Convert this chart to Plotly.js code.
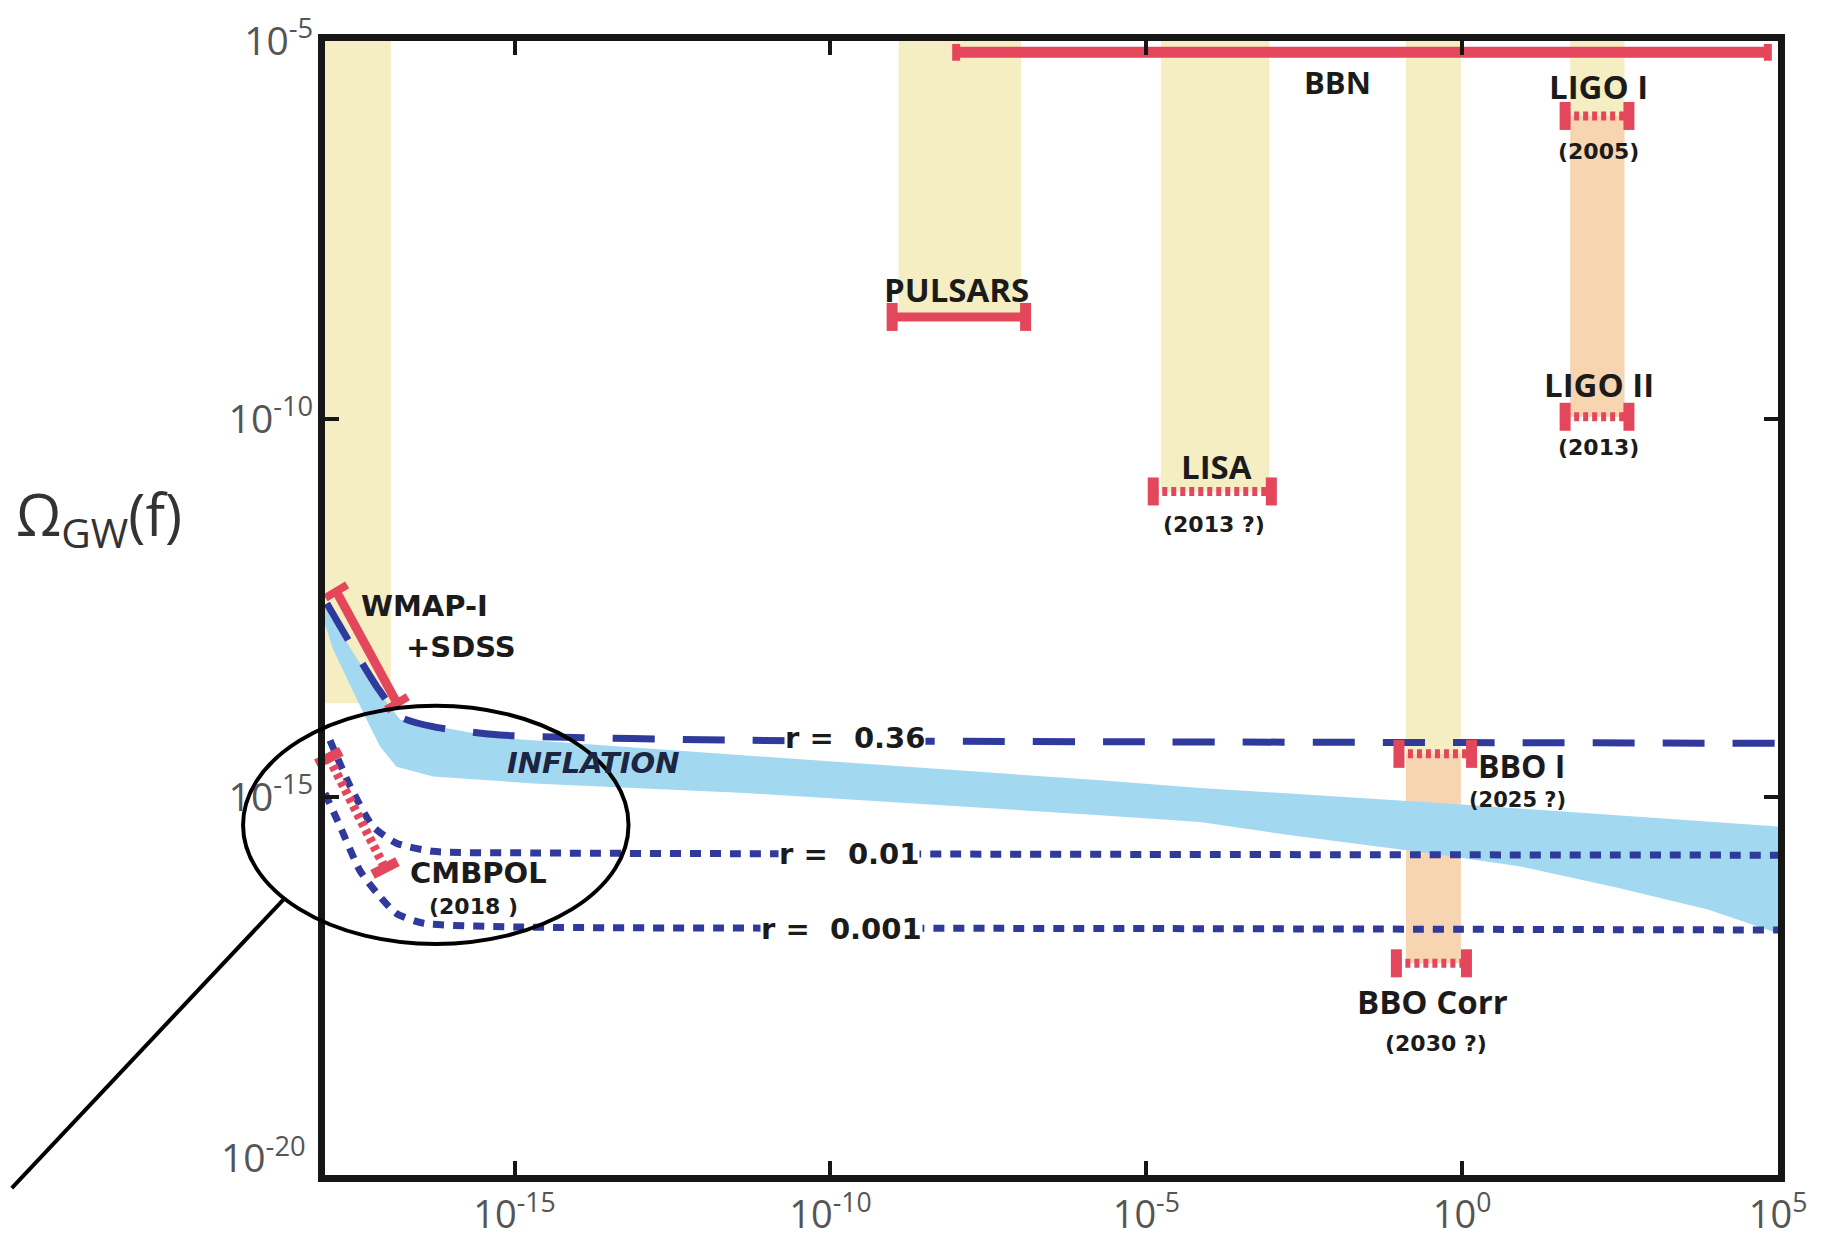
<!DOCTYPE html>
<html><head><meta charset="utf-8">
<script src="https://cdn.plot.ly/plotly-3.0.1.min.js"></script>
<style>html,body{margin:0;padding:0;background:#fff}</style>
</head><body>
<div id="chart" style="width:1832px;height:1242px"></div>
<script>
// ---------- axes ----------
const xTickVals = [1e-15, 1e-10, 1e-5, 1, 1e5];
const xTickText = ['10<sup>-15</sup>', '10<sup>-10</sup>', '10<sup>-5</sup>', '10<sup>0</sup>', '10<sup>5</sup>'];
const yTickVals = [1e-20, 1e-15, 1e-10, 1e-5];
const yTickText = ['', '10<sup>-15</sup>', '10<sup>-10</sup>', '10<sup>-5</sup>'];
const yBottomTickText = '10<sup>-20</sup>';   // drawn slightly raised, as in the original

// ---------- detector frequency windows (shaded bands) ----------
const bandNames        = ['CMB', 'PULSARS', 'LISA', 'BBO', 'LIGO'];
const bandFLow         = [1e-18, 1.2e-9, 1.7e-5, 0.129, 51.3];
const bandFHigh        = [1.1e-17, 1.05e-7, 8.91e-4, 0.955, 372];
const bandTop          = [1e-5, 1e-5, 1e-5, 1e-5, 1e-5];
const bandYellowBottom = [1.74e-14, 2.24e-9, 1.10e-11, 3.72e-15, 1.02e-6];
const bandOrangeBottom = [null, null, null, 6.31e-18, 1.07e-10];

// ---------- inflation band ----------
const inflUpperF     = [1e-18, 2.51e-18, 6.61e-18, 1.55e-17, 5.89e-16, 5.37e-12, 1.86e-6, 7.08e-5, 1, 1e5];
const inflUpperOmega = [3.31e-13, 9.33e-14, 2.63e-14, 1.05e-14, 6.03e-15, 3.55e-15, 1.66e-15, 1.32e-15, 7.94e-16, 4.07e-16];
const inflLowerF     = [1e-18, 1.35e-18, 4.57e-18, 7.41e-18, 1.35e-17, 5.13e-17, 2.0e-15, 5.37e-12, 1.86e-6, 7.08e-5, 1.7e-3, 0.282, 8.51, 257, 7.76e3, 1e5];
const inflLowerOmega = [1.9e-13, 8.9e-14, 1.05e-14, 4.68e-15, 2.51e-15, 1.86e-15, 1.51e-15, 1.12e-15, 5.75e-16, 4.68e-16, 3.16e-16, 1.82e-16, 1.20e-16, 6.46e-17, 3.24e-17, 1.58e-17];

// ---------- tensor-to-scalar curves ----------
const r036F     = [1.07e-18, 2.51e-18, 6.61e-18, 1.55e-17, 5.13e-17, 5.89e-16, 5.37e-12, 1e-5, 1, 1e5];
const r036Omega = [3.63e-13, 1.07e-13, 2.88e-14, 1.15e-14, 8.51e-15, 6.61e-15, 5.62e-15, 5.37e-15, 5.25e-15, 5.13e-15];
const r001F     = [1.2e-18, 2.51e-18, 5.75e-18, 1.35e-17, 5.13e-17, 1.95e-15, 1e-5, 1e5];
const r001Omega = [5.62e-15, 1.38e-15, 4.07e-16, 2.45e-16, 1.91e-16, 1.82e-16, 1.74e-16, 1.70e-16];
const r0001F     = [1e-18, 1.74e-18, 3.55e-18, 6.61e-18, 1.35e-17, 3.63e-17, 1e-15, 1e-5, 1e5];
const r0001Omega = [1.12e-15, 4.07e-16, 1.07e-16, 5.37e-17, 2.88e-17, 2.14e-17, 1.91e-17, 1.82e-17, 1.74e-17];

// ---------- experimental bounds / sensitivities ----------
const bbnF = [9.8e-9, 6.9e4],        bbnOmega = [7.08e-6, 7.08e-6];
const pulsarF = [9.5e-10, 1.23e-7],  pulsarOmega = [2.24e-9, 2.24e-9];
const wmapF = [1.51e-18, 1.38e-17],  wmapOmega = [5.25e-13, 1.74e-14];
const lisaF = [1.29e-5, 9.55e-4],    lisaOmega = [1.10e-11, 1.10e-11];
const ligo1F = [42.7, 437],          ligo1Omega = [1.02e-6, 1.02e-6];
const ligo2F = [42.7, 437],          ligo2Omega = [1.07e-10, 1.07e-10];
const bbo1F = [0.1, 1.41],           bbo1Omega = [3.72e-15, 3.72e-15];
const bboCorrF = [0.091, 1.17],      bboCorrOmega = [6.31e-18, 6.31e-18];
const cmbpolF = [1.15e-18, 8.91e-18], cmbpolOmega = [3.31e-15, 1.15e-16];

// ---------- styles ----------
const YELLOW = '#f6eec3', ORANGE = '#f6d5b0', LIGHTBLUE = '#a3d8f1';
const RED = '#e4475b', NAVY = '#2f3a9c';

const traces = [];
for (let i = 0; i < bandNames.length; i++) {
  traces.push({
    x: [bandFLow[i], bandFHigh[i], bandFHigh[i], bandFLow[i], bandFLow[i]],
    y: [bandTop[i], bandTop[i], bandYellowBottom[i], bandYellowBottom[i], bandTop[i]],
    mode: 'lines', fill: 'toself', fillcolor: YELLOW, line: {width: 0}, hoverinfo: 'skip', name: bandNames[i]
  });
  if (bandOrangeBottom[i] !== null) {
    traces.push({
      x: [bandFLow[i], bandFHigh[i], bandFHigh[i], bandFLow[i], bandFLow[i]],
      y: [bandYellowBottom[i], bandYellowBottom[i], bandOrangeBottom[i], bandOrangeBottom[i], bandYellowBottom[i]],
      mode: 'lines', fill: 'toself', fillcolor: ORANGE, line: {width: 0}, hoverinfo: 'skip', name: bandNames[i]
    });
  }
}

// inflation polygon
traces.push({
  x: inflUpperF.concat(inflLowerF.slice().reverse()),
  y: inflUpperOmega.concat(inflLowerOmega.slice().reverse()),
  mode: 'lines', fill: 'toself', fillcolor: LIGHTBLUE, line: {width: 0}, hoverinfo: 'skip', name: 'Inflation'
});

// r curves
traces.push({x: r036F, y: r036Omega, mode: 'lines', line: {color: NAVY, width: 7, dash: '42px,28px', shape: 'spline', smoothing: 0.6}, name: 'r=0.36'});
traces.push({x: r001F, y: r001Omega, mode: 'lines', line: {color: NAVY, width: 7, dash: '11px,9px', shape: 'spline', smoothing: 0.6}, name: 'r=0.01'});
traces.push({x: r0001F, y: r0001Omega, mode: 'lines', line: {color: NAVY, width: 7, dash: '11px,9px', shape: 'spline', smoothing: 0.6}, name: 'r=0.001'});

function bound(f, om, dash, lw, capSize, capW, angle, sym) {
  return {
    x: f, y: om, mode: 'lines+markers', cliponaxis: false,
    line: {color: RED, width: lw, dash: dash || 'solid'},
    marker: {symbol: sym || 'line-ns', size: capSize, angle: angle || 0, color: RED, line: {color: RED, width: capW}},
    hoverinfo: 'skip'
  };
}
traces.push(bound(bbnF, bbnOmega, null, 11, 12, 8));
traces.push(bound(pulsarF, pulsarOmega, null, 9, 20, 11));
traces.push(bound(wmapF, wmapOmega, null, 9, 18, 8, -31, 'line-ew'));
traces.push(bound(lisaF, lisaOmega, '5px,4px', 9, 20, 11));
traces.push(bound(ligo1F, ligo1Omega, '5px,4px', 9, 20, 11));
traces.push(bound(ligo2F, ligo2Omega, '5px,4px', 9, 20, 11));
traces.push(bound(bbo1F, bbo1Omega, '5px,4px', 9, 20, 11));
traces.push(bound(bboCorrF, bboCorrOmega, '5px,4px', 9, 20, 11));
traces.push(bound(cmbpolF, cmbpolOmega, '5px,4px', 9, 20, 10, -27, 'line-ew'));

const NARROW = 'Open Sans, Liberation Sans, sans-serif';
const WIDE = 'DejaVu Sans, Verdana, sans-serif';
function lab(text, x, y, fam, size, extra) {
  return Object.assign({text: '<b>' + text + '</b>', x: x, y: y, xref: 'x', yref: 'y', showarrow: false,
    font: {family: fam, size: size, color: '#1b1b1b'}, xanchor: 'center', yanchor: 'middle'}, extra || {});
}
const rBox = {bgcolor: '#ffffff', borderpad: 0, height: 30};
const TICKFONT = {family: 'Open Sans, sans-serif', size: 39, color: '#555'};
const annotations = [
  lab('BBN', -1.97, -5.54, NARROW, 31),
  lab('PULSARS', -8.01, -8.29, NARROW, 33),
  lab('LISA', -3.89, -10.63, NARROW, 33),
  lab('(2013 ?)', -3.93, -11.40, WIDE, 22),
  lab('LIGO I', 2.16, -5.60, NARROW, 33),
  lab('(2005)', 2.16, -6.46, WIDE, 22),
  lab('LIGO II', 2.16, -9.55, NARROW, 33),
  lab('(2013)', 2.16, -10.38, WIDE, 22),
  lab('BBO I', 0.22, -14.58, NARROW, 32, {xanchor: 'left'}),
  lab('(2025 ?)', 0.07, -15.04, WIDE, 21, {xanchor: 'left'}),
  lab('BBO Corr', -0.47, -17.71, NARROW, 33),
  lab('(2030 ?)', -0.42, -18.26, WIDE, 22),
  lab('WMAP-I', -16.42, -12.48, WIDE, 29),
  lab('+SDSS', -15.84, -13.02, WIDE, 29),
  lab('CMBPOL', -15.57, -16.01, WIDE, 29),
  lab('(2018 )', -15.65, -16.45, WIDE, 22),
  lab('<i>INFLATION</i>', -13.75, -14.55, WIDE, 29, {font: {family: WIDE, size: 29, color: '#1c2542'}}),
  lab('r =  0.36', -9.61, -14.22, WIDE, 29, rBox),
  lab('r =  0.01', -9.70, -15.76, WIDE, 29, rBox),
  lab('r =  0.001', -9.83, -16.75, WIDE, 29, rBox),
  {text: yBottomTickText, xref: 'paper', yref: 'paper', x: -0.0115, y: 0.0177, xanchor: 'right', yanchor: 'middle', showarrow: false, font: TICKFONT},
  {text: 'Ω<sub>GW</sub>(f)', xref: 'paper', yref: 'paper', x: -0.1555, y: 0.5806, xanchor: 'center', yanchor: 'middle', showarrow: false,
   font: {family: 'Open Sans, sans-serif', size: 58, color: '#333'}}
];

const axisCommon = {
  type: 'log', showgrid: false, zeroline: false, showline: true, linecolor: '#161616', linewidth: 7,
  mirror: 'ticks', ticks: 'inside', ticklen: 14, tickwidth: 4, tickcolor: '#161616',
  tickfont: TICKFONT, tickmode: 'array'
};
const layout = {
  width: 1832, height: 1242,
  margin: {l: 325, r: 54, t: 41, b: 67},
  paper_bgcolor: '#fff', plot_bgcolor: '#fff',
  showlegend: false,
  xaxis: Object.assign({}, axisCommon, {range: [-18, 5], tickvals: xTickVals, ticktext: xTickText, ticklabelstandoff: 0,
    tickfont: {family: 'Open Sans, sans-serif', size: 38, color: '#555'}}),
  yaxis: Object.assign({}, axisCommon, {range: [-20, -5], tickvals: yTickVals, ticktext: yTickText, ticklabelstandoff: -3}),
  annotations: annotations,
  shapes: [
    {type: 'circle', xref: 'paper', yref: 'paper', x0: -0.0564, x1: 0.2089, y0: 0.2037, y1: 0.4138, line: {color: '#000', width: 4}},
    {type: 'line', xref: 'paper', yref: 'paper', x0: -0.0275, y0: 0.2443, x1: -0.2156, y1: -0.0115, line: {color: '#000', width: 4}}
  ]
};
Plotly.newPlot('chart', traces, layout, {displayModeBar: false, staticPlot: true});
</script></body></html>
